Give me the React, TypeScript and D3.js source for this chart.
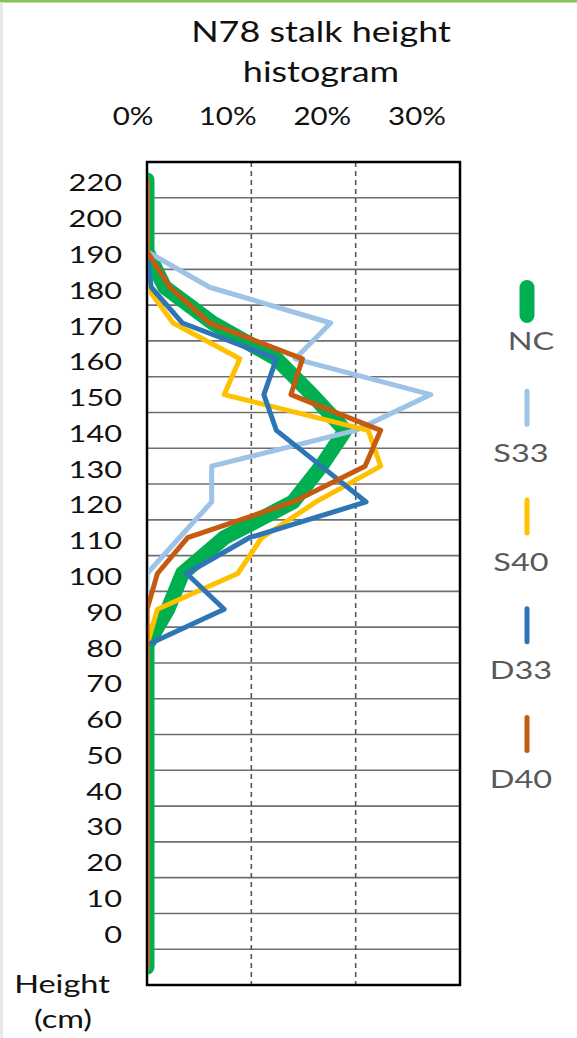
import React from "react";
import * as d3 from "d3";

const heightLabels = ["220","200","190","180","170","160","150","140","130","120","110","100","90","80","70","60","50","40","30","20","10","0",""];
const NC  = [0,0,0,1.7,6.3,12.4,15.8,19.0,16.7,14.0,7.4,3.4,2.0,0,0,0,0,0,0,0,0,0,0];
const S33 = [0,0,0,6.0,17.6,14.2,27.2,20.0,6.2,6.2,3.1,0,0,0,0,0,0,0,0,0,0,0,0];
const S40 = [0,0,0,0,2.5,8.9,7.4,21.2,22.4,16.2,11.0,8.7,1.0,0,0,0,0,0,0,0,0,0,0];
const D33 = [0,0,0,0.4,3.4,12.4,11.2,12.4,16.7,21.0,9.8,3.8,7.4,0,0,0,0,0,0,0,0,0,0];
const D40 = [0,0,0,2.2,6.0,14.9,13.8,22.4,20.9,14.0,3.9,1.0,0,0,0,0,0,0,0,0,0,0,0];
const seriesNames = ["NC","S33","S40","D33","D40"];
const seriesColors = ["#00b050","#9dc3e6","#ffc000","#2e75b6","#c55a11"];
const seriesWidths = [15,5,5,5,5];
const xTicks = [0,10,20,30];
const titleLines = ["N78 stalk height","histogram"];

const W = 577, H = 1038;
const plot = { left: 147, right: 460, top: 162, bottom: 985 };
const SX = 1.26;
const FONT = "Lato, 'Open Sans', sans-serif";

function T(props: { x: number; y: number; size: number; anchor?: string; fill?: string; sx?: number; children: React.ReactNode }) {
  const sx = props.sx ?? SX;
  return (
    <text
      transform={`translate(${props.x},${props.y}) scale(${sx},1)`}
      fontFamily={FONT}
      fontSize={props.size}
      textAnchor={props.anchor ?? "middle"}
      fill={props.fill ?? "#111"}
    >
      {props.children}
    </text>
  );
}

export default function App() {
  const data = [NC, S33, S40, D33, D40];
  const x = d3.scaleLinear().domain([0, 30]).range([plot.left, plot.right]);
  const xLabel = d3.scaleLinear().domain([0, 30]).range([133, 417]);
  const y = d3.scaleBand<string>().domain(heightLabels).range([plot.top, plot.bottom]);
  const bw = y.bandwidth();
  const yc = (i: number) => (y(heightLabels[i]) ?? 0) + bw / 2;
  const line = d3
    .line<number>()
    .x((v) => x(v))
    .y((_, i) => yc(i));

  const legendY = d3.scaleLinear().domain([0, 4]).range([280, 715]);

  return (
    <svg width={W} height={H} style={{ position: "absolute", left: 0, top: 0, background: "#fff" }}>
      <rect x={0} y={0} width={W} height={H} fill="#fff" />
      <rect x={0} y={0} width={W} height={2.5} fill="#86c25a" />
      <rect x={0} y={2.5} width={3} height={H} fill="#e8e8e8" />
      <defs>
        <clipPath id="plotclip">
          <rect x={plot.left + 1} y={plot.top} width={plot.right - plot.left - 1} height={plot.bottom - plot.top} />
        </clipPath>
      </defs>

      {/* title */}
      {titleLines.map((t, i) => (
        <T key={t} x={321} y={42 + i * 40} size={29} sx={1.24}>{t}</T>
      ))}

      {/* top tick labels */}
      {xTicks.map((t) => (
        <T key={t} x={xLabel(t)} y={125} size={25} sx={1.18}>{`${t}%`}</T>
      ))}

      {/* horizontal gridlines */}
      {heightLabels.slice(1).map((h) => (
        <line key={"g" + h} x1={plot.left} x2={plot.right} y1={y(h)} y2={y(h)} stroke="#6f6f6f" strokeWidth={1.6} />
      ))}
      {/* vertical dashed gridlines */}
      {xTicks.slice(1, 3).map((t) => (
        <line key={"v" + t} x1={x(t)} x2={x(t)} y1={plot.top} y2={plot.bottom} stroke="#555" strokeWidth={1.6} strokeDasharray="5,4" />
      ))}
      {/* border */}
      <rect x={plot.left} y={plot.top} width={plot.right - plot.left} height={plot.bottom - plot.top} fill="none" stroke="#000" strokeWidth={2.5} />

      {/* y labels */}
      {heightLabels.map((h, i) =>
        h === "" ? null : (
          <T key={"y" + h} x={122} y={yc(i) + 11.5} size={24} anchor="end" sx={1.28}>{h}</T>
        )
      )}
      <T x={62} y={993} size={25} sx={1.3}>Height</T>
      <T x={63} y={1028} size={25} sx={1.3}>(cm)</T>

      {/* series */}
      <g clipPath="url(#plotclip)">
        {data.map((d, k) => (
          <path
            key={seriesNames[k]}
            d={line(d) ?? ""}
            fill="none"
            stroke={seriesColors[k]}
            strokeWidth={seriesWidths[k]}
            strokeLinejoin="round"
            strokeLinecap="round"
          />
        ))}
      </g>

      {/* legend */}
      {seriesNames.map((n, k) => {
        const top = legendY(k);
        const len = k === 0 ? 43 : 38;
        const w = k === 0 ? 15 : 5;
        return (
          <g key={"l" + n}>
            <line
              x1={527}
              x2={527}
              y1={top + w / 2}
              y2={top + len - w / 2}
              stroke={seriesColors[k]}
              strokeWidth={w}
              strokeLinecap="round"
            />
            <T x={k === 0 ? 531 : 521} y={top + (k === 0 ? 70 : 73)} size={25} fill="#595959" sx={1.3}>{n}</T>
          </g>
        );
      })}
    </svg>
  );
}
